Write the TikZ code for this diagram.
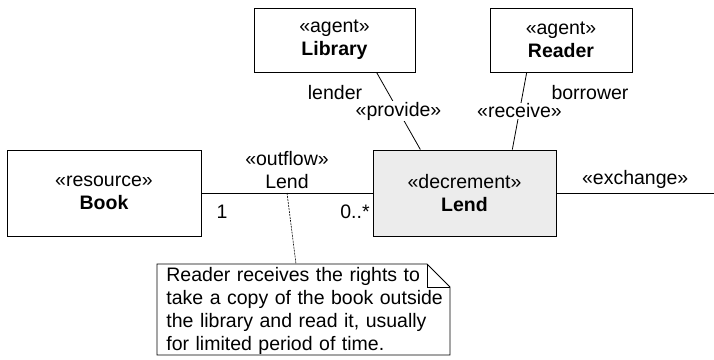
\documentclass[tikz,border=0pt]{standalone}
\usepackage{fontspec}
\setmainfont{Liberation Sans}
\usetikzlibrary{calc}

\tikzset{
  uml/.style={font=\fontsize{19.5}{23}\selectfont},
  classbox/.style={uml, draw=black, line width=0.9pt, align=center, inner sep=0pt},
  lbl/.style={uml, inner sep=1pt},
  stereo/.style={uml, fill=white, inner sep=1pt},
}

\begin{document}
\begin{tikzpicture}[x=1pt, y=-1pt, line width=0.8pt]

\useasboundingbox (0,0) rectangle (714,359);

% Classes
\node[classbox, minimum width=194pt, minimum height=86pt] (book) at (104,193)
  {«resource»\\\textbf{Book}};
\node[classbox, fill=gray!15, minimum width=183pt, minimum height=86pt] (lend) at (464.5,193)
  {«decrement»\\\textbf{Lend}};
\node[classbox, minimum width=161pt, minimum height=64pt] (library) at (334.5,40)
  {«agent»\\\textbf{Library}};
\node[classbox, minimum width=142pt, minimum height=64pt] (reader) at (561,40)
  {«agent»\\\textbf{Reader}};

% Outflow association
\draw (book) -- (lend)
  node[lbl, midway, above=3pt, align=center] (outflow) {«outflow»\\Lend}
  coordinate[midway] (mid);
\node[lbl] (one) at (222,212) {1};
\node[lbl] (many) at (355,212) {0..*};

% Provide / receive
\draw ($(library.south west)!.76!(library.south east)$) -- ($(lend.north west)!.26!(lend.north east)$)
  node[stereo, midway] (provide) {«provide»};
\draw ($(reader.south west)!.26!(reader.south east)$) -- ($(lend.north west)!.76!(lend.north east)$)
  node[stereo, midway] (receive) {«receive»};
\node[lbl] (lender) at (335,93) {lender};
\node[lbl] (borrower) at (590,93) {borrower};

% Exchange
\coordinate (exend) at (714,193);
\draw (lend) -- (exend) node[lbl, midway, above=3pt] (exchange) {«exchange»};

% Note
\node[uml, anchor=north west, text width=290pt, inner xsep=9pt, inner ysep=2.5pt,
  align=left] (note) at (157,264)
  {Reader receives the rights to\\take a copy of the book outside\\the library and read it, usually\\for limited period of time.};
\draw (note.north west) -- ++(270,0) -- ++(23,23) -- ++(0,68) -- ++(-293,0) -- cycle;
\draw ([xshift=270pt]note.north west) -- ++(0,23) -- ++(23,0);
\draw[dash pattern=on 2pt off 1pt, line width=0.6pt] (mid) -- ([xshift=139pt]note.north west);

\end{tikzpicture}
\end{document}
